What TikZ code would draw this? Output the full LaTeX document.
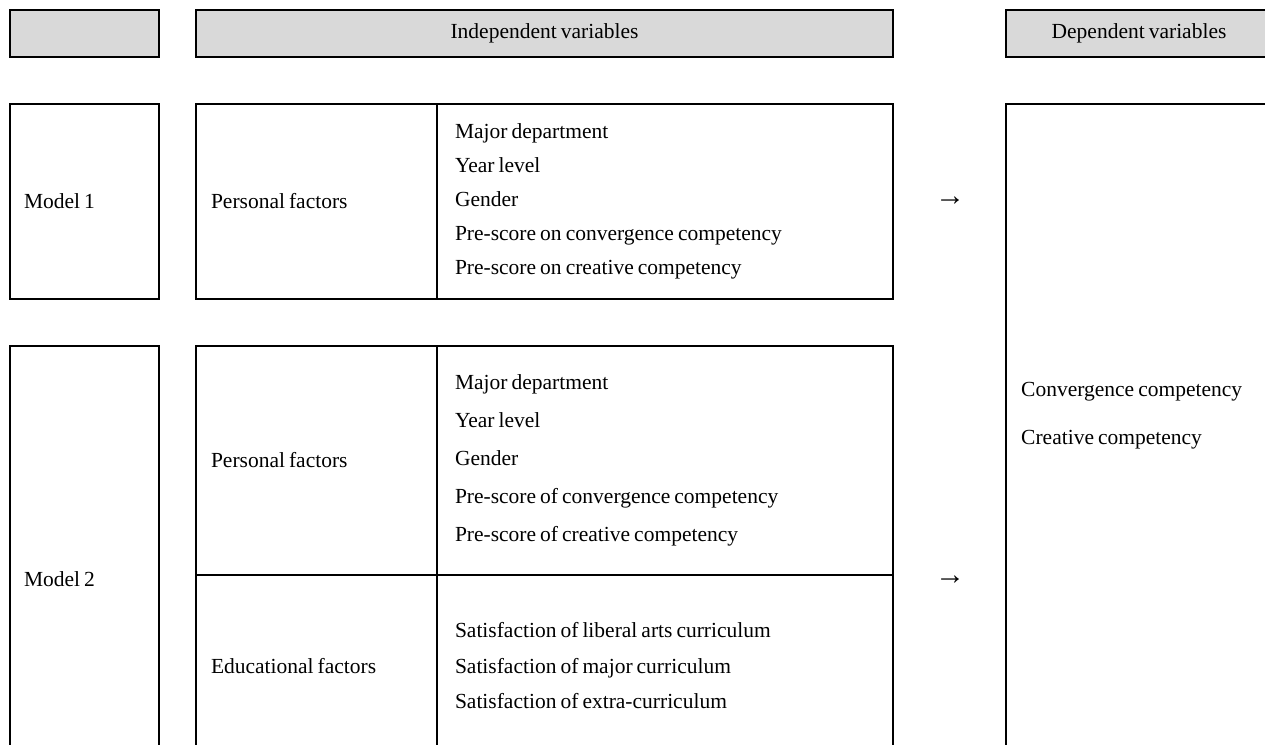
\documentclass[tikz,border=0pt]{standalone}
\usepackage{fontspec}
\setmainfont[WordSpace=0.75]{Liberation Serif}
\usetikzlibrary{positioning}
\definecolor{hdrgray}{RGB}{217,217,217}

\begin{document}
\begin{tikzpicture}[
    x=1pt, y=-1pt,
    cell/.style={
        rectangle,
        draw,
        line width=1.2pt,
        outer sep=0pt,
        inner ysep=0pt,
        inner xsep=15pt,
        anchor=north west,
        align=flush left,
        font=\fontsize{21.5}{34}\selectfont
    },
    hdr/.style={cell, fill=hdrgray, align=center, minimum height=47pt},
    model/.style={cell, inner xsep=14pt, minimum width=149pt, text width=121pt},
    factor/.style={cell, minimum width=241pt, text width=211pt},
    items/.style={cell, inner xsep=18pt, minimum width=456pt, text width=420pt},
    arrowsign/.style={font=\fontsize{30}{30}\selectfont, inner sep=0pt}
]
\useasboundingbox (0,0) rectangle (1265,744);
\clip (0,0) rectangle (1265,744);

% header row
\node[hdr, minimum width=149pt] (hdrModel) at (10,10) {};
\node[hdr, minimum width=697pt] (hdrIndep) at (196,10) {Independent variables};
\node[hdr, minimum width=266pt] (hdrDep) at (1006,10) {Dependent variables};

% model 1
\node[model, minimum height=195pt] (model1) at (10,104) {Model 1};
\node[factor, minimum height=195pt] (pers1) at (196,104) {Personal factors};
\node[items, minimum height=195pt, right=0pt of pers1] (list1) {Major department\\Year level\\Gender\\Pre-score on convergence competency\\Pre-score on creative competency};

% model 2
\node[model, minimum height=466pt] (model2) at (10,346) {Model 2};
\node[factor, minimum height=229pt] (pers2) at (196,346) {Personal factors};
\node[items, minimum height=229pt, right=0pt of pers2,
      font=\fontsize{21.5}{38}\selectfont] (list2) {Major department\\Year level\\Gender\\Pre-score of convergence competency\\Pre-score of creative competency};
\node[factor, minimum height=182pt, below=0pt of pers2] (edu) {Educational factors};
\node[items, minimum height=182pt, right=0pt of edu,
      font=\fontsize{21.5}{35.5}\selectfont] (list3) {Satisfaction of liberal arts curriculum\\Satisfaction of major curriculum\\Satisfaction of extra-curriculum};

% dependent side
\node[cell, minimum width=266pt, minimum height=700pt] (dep) at (1006,104) {};
\node[anchor=west, align=left, inner sep=0pt,
      font=\fontsize{21.5}{48}\selectfont] (depvars) at (1021,416) {Convergence competency\\Creative competency};

\node[arrowsign] (arr1) at (950,201) {→};
\node[arrowsign] (arr2) at (950,580) {→};

\end{tikzpicture}
\end{document}
